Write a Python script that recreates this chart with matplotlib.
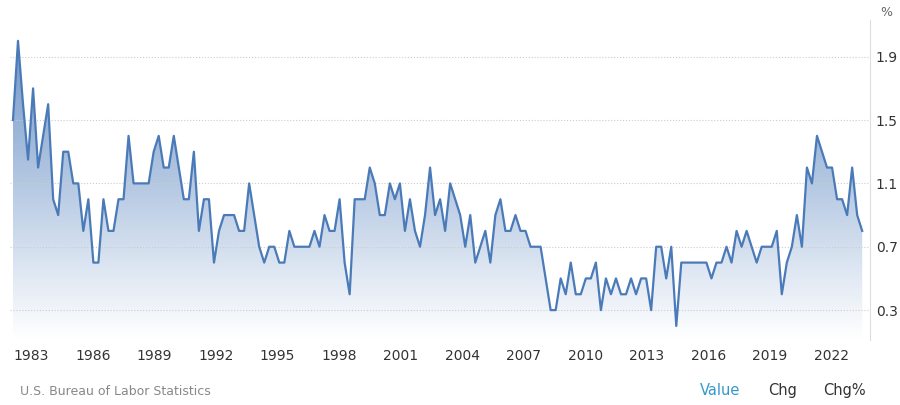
import numpy as np
import matplotlib.pyplot as plt
from matplotlib.patches import Polygon
from matplotlib.colors import LinearSegmentedColormap

# quarterly values, starting 1982 Q1
start_year = 1982.1
values = [1.5, 2.0, 1.6, 1.25, 1.7, 1.2, 1.4, 1.6, 1.0, 0.9, 1.3, 1.3, 1.1, 1.1, 0.8, 1.0,
          0.6, 0.6, 1.0, 0.8, 0.8, 1.0, 1.0, 1.4, 1.1, 1.1, 1.1, 1.1, 1.3, 1.4, 1.2, 1.2,
          1.4, 1.2, 1.0, 1.0, 1.3, 0.8, 1.0, 1.0, 0.6, 0.8, 0.9, 0.9, 0.9, 0.8, 0.8, 1.1,
          0.9, 0.7, 0.6, 0.7, 0.7, 0.6, 0.6, 0.8, 0.7, 0.7, 0.7, 0.7, 0.8, 0.7, 0.9, 0.8,
          0.8, 1.0, 0.6, 0.4, 1.0, 1.0, 1.0, 1.2, 1.1, 0.9, 0.9, 1.1, 1.0, 1.1, 0.8, 1.0,
          0.8, 0.7, 0.9, 1.2, 0.9, 1.0, 0.8, 1.1, 1.0, 0.9, 0.7, 0.9, 0.6, 0.7, 0.8, 0.6,
          0.9, 1.0, 0.8, 0.8, 0.9, 0.8, 0.8, 0.7, 0.7, 0.7, 0.5, 0.3, 0.3, 0.5, 0.4, 0.6,
          0.4, 0.4, 0.5, 0.5, 0.6, 0.3, 0.5, 0.4, 0.5, 0.4, 0.4, 0.5, 0.4, 0.5, 0.5, 0.3,
          0.7, 0.7, 0.5, 0.7, 0.2, 0.6, 0.6, 0.6, 0.6, 0.6, 0.6, 0.5, 0.6, 0.6, 0.7, 0.6,
          0.8, 0.7, 0.8, 0.7, 0.6, 0.7, 0.7, 0.7, 0.8, 0.4, 0.6, 0.7, 0.9, 0.7, 1.2, 1.1,
          1.4, 1.3, 1.2, 1.2, 1.0, 1.0, 0.9, 1.2, 0.9, 0.8]
years = start_year + 0.245 * np.arange(len(values))
y_ticks = [0.3, 0.7, 1.1, 1.5, 1.9]
x_ticks = list(range(1983, 2023, 3))

line_color = '#4a7ab7'

fig = plt.figure(figsize=(9, 4.05), dpi=100)
ax = fig.add_axes([0.011, 0.16, 0.956, 0.79])
ax.set_xlim(1981.95, 2023.9)
ax.set_ylim(0.11, 2.13)

# gradient fill under the line
grad = np.linspace(1, 0, 256).reshape(-1, 1)
cmap = LinearSegmentedColormap.from_list('g', ['#ffffff', '#5b86c0'])
img = ax.imshow(grad, cmap=cmap, aspect='auto', extent=[years[0], years[-1], 0.11, 2.0],
                origin='upper', vmin=0, vmax=1.15, zorder=1)
poly = Polygon(np.column_stack([np.r_[years[0], years, years[-1]],
                                np.r_[0.11, values, 0.11]]), closed=True,
               transform=ax.transData, facecolor='none', edgecolor='none')
ax.add_patch(poly)
img.set_clip_path(poly)
ax.plot(years, values, color=line_color, lw=1.6, zorder=3, solid_joinstyle='round')

ax.yaxis.tick_right()
ax.set_yticks(y_ticks)
ax.set_yticklabels([f'{t:.1f}' for t in y_ticks], fontsize=10, color='#333333')
ax.set_xticks(x_ticks)
ax.set_xticklabels([str(t) for t in x_ticks], fontsize=10, color='#333333')
ax.tick_params(length=0, pad=6)
ax.tick_params(axis='y', pad=4)
ax.grid(axis='y', linestyle=':', color='#cccccc', lw=0.8)
for s in ax.spines.values():
    s.set_visible(False)
ax.spines['right'].set_visible(True)
ax.spines['right'].set_color('#dddddd')

fig.text(0.985, 0.985, '%', fontsize=9, color='#666666', ha='center', va='top')
fig.text(0.022, 0.025, 'U.S. Bureau of Labor Statistics', fontsize=9, color='#888888')
fig.text(0.778, 0.025, 'Value', fontsize=10.5, color='#3399cc')
fig.text(0.853, 0.025, 'Chg', fontsize=10.5, color='#333333')
fig.text(0.915, 0.025, 'Chg%', fontsize=10.5, color='#333333')

fig.savefig('out.png')
